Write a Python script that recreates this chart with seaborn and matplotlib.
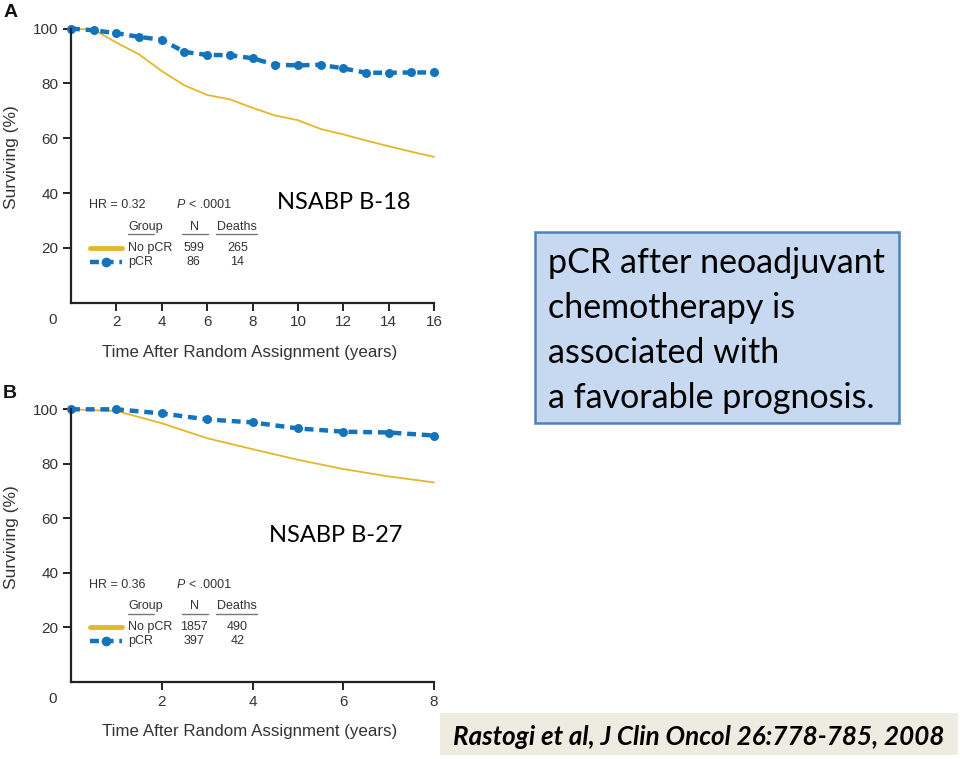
import numpy as np
import pandas as pd
import matplotlib
matplotlib.use("Agg")
import matplotlib.pyplot as plt
import seaborn as sns
from matplotlib.lines import Line2D
from matplotlib.patches import Rectangle

# ---- data ----
# panel A, NSABP B-18 (16 years)
years_a = [0, 1, 2, 3, 4, 5, 6, 7, 8, 9, 10, 11, 12, 13, 14, 15, 16]
no_pcr_a = [100, 99.6, 94.9, 90.6, 84.5, 79.3, 75.8, 74.2, 71.1, 68.3, 66.6, 63.4, 61.4, 59.2, 57.1, 55.1, 53.2]
pcr_a = [100, 99.4, 98.3, 97.0, 95.9, 91.5, 90.4, 90.3, 89.2, 86.8, 86.6, 86.8, 85.5, 83.9, 83.9, 84.0, 84.0]

# panel B, NSABP B-27 (8 years)
years_b = [0, 1, 2, 3, 4, 5, 6, 7, 8]
no_pcr_b = [100, 99.4, 94.9, 89.4, 85.4, 81.5, 78.1, 75.4, 73.2]
pcr_b = [100, 100, 98.5, 96.3, 95.2, 93.0, 91.8, 91.5, 90.4]

groups = ["No pCR", "pCR"]
n_a = ["599", "86"]
deaths_a = ["265", "14"]
n_b = ["1857", "397"]
deaths_b = ["490", "42"]

yellow = "#e5b62b"
blue = "#1474bb"
grey = "#333333"

sns.set_style("ticks")
plt.rcParams["font.family"] = ["Liberation Sans", "DejaVu Sans"]

fig = plt.figure(figsize=(9.6, 7.59), dpi=100)
axA = fig.add_axes([0.0740, 0.6011, 0.3781, 0.3612])
axB = fig.add_axes([0.0740, 0.1014, 0.3781, 0.3593])


def draw_panel(ax, years, no_pcr, pcr, xmax, hr, n_vals, death_vals, trial, trial_xy, letter):
    df = pd.DataFrame({"years": years, "No pCR": no_pcr, "pCR": pcr})
    sns.lineplot(data=df, x="years", y="No pCR", ax=ax, color=yellow, linewidth=1.3, clip_on=False)
    sns.lineplot(data=df, x="years", y="pCR", ax=ax, color=blue, linewidth=3.2,
                 linestyle=(0, (2.0, 1.3)), marker="o", markersize=6.5,
                 markeredgewidth=0, clip_on=False)
    ax.set_xlim(0, xmax)
    ax.set_ylim(0, 100)
    ax.set_xticks(range(2, xmax + 1, 2))
    ax.set_yticks([20, 40, 60, 80, 100])
    sns.despine(ax=ax)
    for s in ["left", "bottom"]:
        ax.spines[s].set_linewidth(1.6)
        ax.spines[s].set_color("#222222")
    ax.tick_params(axis="both", length=6, width=1.4, color="#222222",
                   labelsize=11, labelcolor=grey, pad=3)
    ax.set_xlabel("Time After Random Assignment (years)", fontsize=12.2, color=grey)
    ax.set_ylabel("Surviving (%)", fontsize=12.5, color=grey)
    ax.xaxis.set_label_coords(0.492, -0.155)
    ax.yaxis.set_label_coords(-0.142, 0.53)
    ax.text(-0.05, -0.063, "0", transform=ax.transAxes, fontsize=11, color=grey,
            ha="center", va="center")
    ax.text(-0.187, 1.057, letter, transform=ax.transAxes, fontsize=14,
            fontweight="bold", color="#111111", ha="left", va="center")

    # in-plot legend table
    tr = ax.transAxes
    fs = 9
    ax.text(0.050, 0.357, "HR = " + hr, transform=tr, fontsize=fs, color=grey, va="center")
    ax.text(0.290, 0.357, "P", transform=tr, fontsize=fs, color=grey, va="center", style="italic")
    ax.text(0.325, 0.357, "< .0001", transform=tr, fontsize=fs, color=grey, va="center")
    ax.text(0.157, 0.278, "Group", transform=tr, fontsize=fs, color=grey, va="center")
    ax.text(0.341, 0.278, "N", transform=tr, fontsize=fs, color=grey, va="center", ha="center")
    ax.text(0.456, 0.278, "Deaths", transform=tr, fontsize=fs, color=grey, va="center", ha="center")
    for x0, x1 in [(0.157, 0.228), (0.306, 0.377), (0.399, 0.512)]:
        ax.add_line(Line2D([x0, x1], [0.251, 0.251], transform=tr, color="#777777",
                           linewidth=1.0, clip_on=False))
    rows_y = [0.200, 0.149]
    for g, nv, dv, ry in zip(groups, n_vals, death_vals, rows_y):
        ax.text(0.157, ry, g, transform=tr, fontsize=fs, color=grey, va="center")
        ax.text(0.338, ry, nv, transform=tr, fontsize=fs, color=grey, va="center", ha="center")
        ax.text(0.458, ry, dv, transform=tr, fontsize=fs, color=grey, va="center", ha="center")
    ax.add_line(Line2D([0.052, 0.140], [rows_y[0]] * 2, transform=tr, color=yellow,
                       linewidth=3.5, clip_on=False))
    ax.add_line(Line2D([0.052, 0.140], [rows_y[1]] * 2, transform=tr, color=blue,
                       linewidth=3.2, linestyle=(0, (2.0, 1.3)), clip_on=False))
    ax.add_line(Line2D([0.096], [rows_y[1]], transform=tr, color=blue, marker="o",
                       markersize=7, markeredgewidth=0, clip_on=False))
    ax.text(trial_xy[0], trial_xy[1], trial, transform=tr, fontsize=17,
            family=["Lato", "DejaVu Sans"], color="#000000", va="center", ha="left")


draw_panel(axA, years_a, no_pcr_a, pcr_a, 16, "0.32", n_a, deaths_a, "NSABP B-18", (0.567, 0.364), "A")
draw_panel(axB, years_b, no_pcr_b, pcr_b, 8, "0.36", n_b, deaths_b, "NSABP B-27", (0.545, 0.537), "B")

# message box
fig.add_artist(Rectangle((0.557, 0.4427), 0.379, 0.2516, transform=fig.transFigure,
                         facecolor="#c6d9f1", edgecolor="#4f81bd", linewidth=1.8))
fig.text(0.571, 0.564, "pCR after neoadjuvant\nchemotherapy is\nassociated with\na favorable prognosis.",
         fontsize=24.5, family=["Lato", "DejaVu Sans"], color="#000000",
         ha="left", va="center", linespacing=1.5)

# citation box
fig.add_artist(Rectangle((0.458, 0.0053), 0.540, 0.0553, transform=fig.transFigure,
                         facecolor="#eeece1", edgecolor="none"))
fig.text(0.472, 0.029, "Rastogi et al, J Clin Oncol 26:778-785, 2008", fontsize=18.7,
         family=["Lato", "DejaVu Sans"], fontweight="bold", style="italic",
         color="#000000", ha="left", va="center")

fig.savefig("out.png", dpi=100)
